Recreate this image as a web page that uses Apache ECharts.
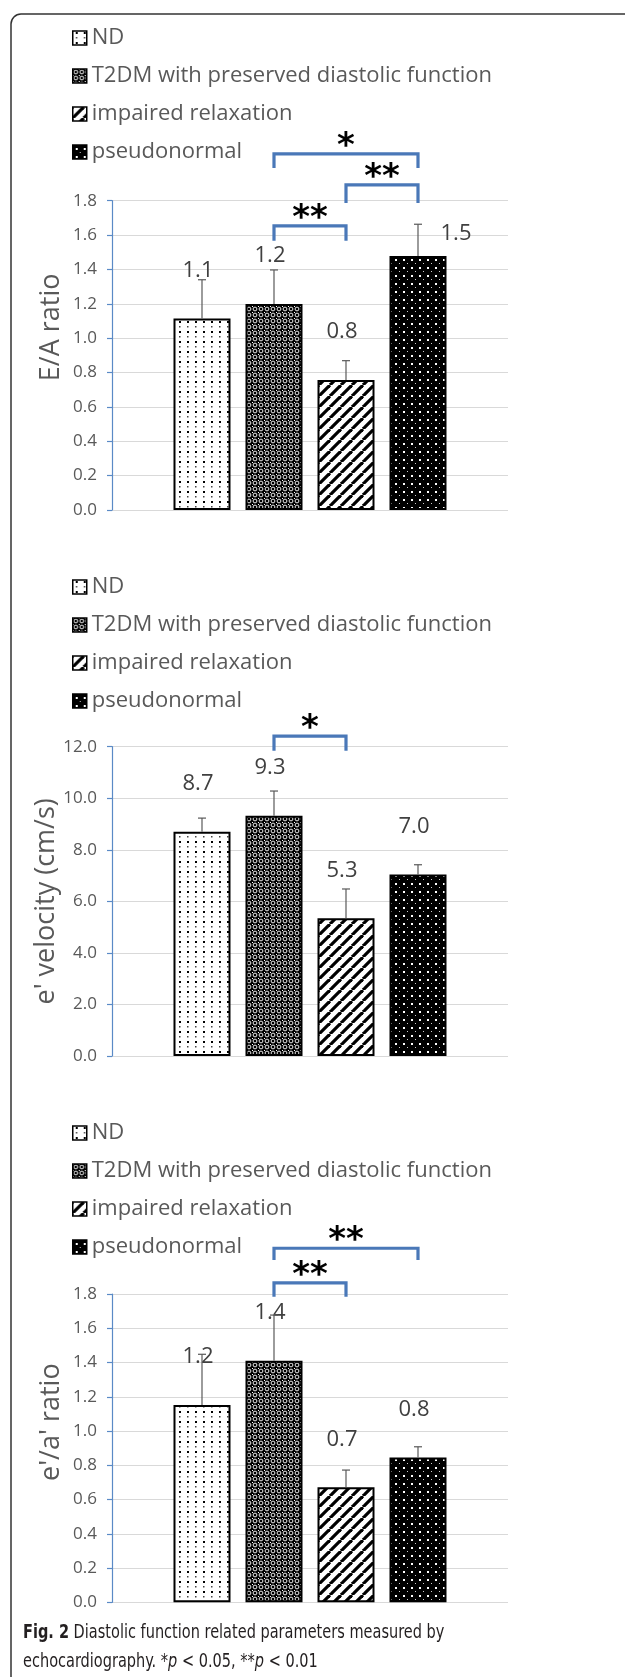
<!DOCTYPE html>
<html>
<head>
<meta charset="utf-8">
<script src="https://cdn.jsdelivr.net/npm/echarts@6/dist/echarts.min.js"></script>
<style>
html,body{margin:0;padding:0;background:#fff;}
#c{width:625px;height:1677px;}
</style>
</head>
<body>
<div id="c"></div>
<script>
// ---------- data ----------
const categories = [''];
const seriesNames = ['ND', 'T2DM with preserved diastolic function', 'impaired relaxation', 'pseudonormal'];

// E/A ratio
const eaMean  = [1.115, 1.199, 0.757, 1.478];
const eaUpper = [1.34, 1.397, 0.869, 1.663];
// e' velocity (cm/s)
const evMean  = [8.70, 9.32, 5.34, 7.04];
const evUpper = [9.23, 10.28, 6.48, 7.42];
// e'/a' ratio
const raMean  = [1.152, 1.41, 0.671, 0.845];
const raUpper = [1.448, 1.677, 0.772, 0.908];

// axis ranges
const eaAxis = {min: 0, max: 1.8, interval: 0.2, name: 'E/A ratio'};
const evAxis = {min: 0, max: 12, interval: 2, name: "e' velocity (cm/s)"};
const raAxis = {min: 0, max: 1.8, interval: 0.2, name: "e'/a' ratio"};

// significance brackets (series index from/to, bar level, leg end level, mark)
const eaBrackets = [
  {from: 1, to: 3, y: 2.072, leg: 1.99, text: '*'},
  {from: 2, to: 3, y: 1.892, leg: 1.787, text: '**'},
  {from: 1, to: 2, y: 1.653, leg: 1.567, text: '**'}
];
const evBrackets = [
  {from: 1, to: 2, y: 12.41, leg: 11.84, text: '*'}
];
const raBrackets = [
  {from: 1, to: 3, y: 2.067, leg: 1.998, text: '**'},
  {from: 1, to: 2, y: 1.865, leg: 1.784, text: '**'}
];

// ---------- style / layout ----------
const BAR_W = 57, GAP = 15;
const FONT = '"Open Sans", sans-serif';
const AXIS_BLUE = '#5a8ac6';
const BRACKET_BLUE = '#4a78b8';
const GRAY_TXT = '#595959';

function pat(w, h, draw) {
  const c = document.createElement('canvas');
  c.width = w; c.height = h;
  const g = c.getContext('2d');
  draw(g, w, h);
  return {image: c, repeat: 'repeat'};
}
const patterns = [
  pat(8, 10, (g, w, h) => {
    g.fillStyle = '#fff'; g.fillRect(0, 0, w, h);
    g.fillStyle = '#000'; g.fillRect(3, 1, 2, 2);
    g.fillStyle = '#444'; g.fillRect(3, 6, 1.5, 1.5);
  }),
  pat(6, 6, (g, w, h) => {
    g.fillStyle = '#000'; g.fillRect(0, 0, w, h);
    g.strokeStyle = '#fff'; g.lineWidth = 0.9;
    g.beginPath(); g.arc(3, 3, 1.9, 0, Math.PI * 2); g.stroke();
    g.fillStyle = '#fff'; g.fillRect(0, 0, 1, 1);
  }),
  pat(11, 11, (g, w, h) => {
    g.fillStyle = '#fff'; g.fillRect(0, 0, w, h);
    g.strokeStyle = '#000'; g.lineWidth = 3.2;
    for (let k = -1; k <= 1; k++) {
      g.beginPath(); g.moveTo(k * w, h); g.lineTo(k * w + w, 0); g.stroke();
    }
  }),
  pat(8, 8, (g, w, h) => {
    g.fillStyle = '#000'; g.fillRect(0, 0, w, h);
    g.fillStyle = '#fff'; g.fillRect(3, 3, 2, 2);
    g.fillStyle = '#ccc'; g.fillRect(7, 7, 1, 1);
  })
];

const panels = [
  {means: eaMean, upper: eaUpper, axis: eaAxis, brackets: eaBrackets, top: 200.7, height: 309.3, legendTop: 26, namePad: 56, nameGap: 47},
  {means: evMean, upper: evUpper, axis: evAxis, brackets: evBrackets, top: 746.7, height: 309.3, legendTop: 575, namePad: 0, nameGap: 52},
  {means: raMean, upper: raUpper, axis: raAxis, brackets: raBrackets, top: 1294, height: 308.3, legendTop: 1121, namePad: 52, nameGap: 47}
];

const grid = [], xAxis = [], yAxis = [], legend = [], series = [];

panels.forEach((p, g) => {
  grid.push({left: 112, width: 396, top: p.top, height: p.height, outerBoundsMode: 'none'});
  xAxis.push({
    type: 'category', gridIndex: g, data: categories,
    axisLine: {show: false}, axisTick: {show: false}, axisLabel: {show: false}
  });
  yAxis.push({
    type: 'value', gridIndex: g, min: p.axis.min, max: p.axis.max, interval: p.axis.interval,
    name: p.axis.name, nameLocation: 'middle', nameGap: p.nameGap, nameRotate: 90,
    nameMoveOverlap: false,
    nameTextStyle: {fontFamily: FONT, fontSize: 27, color: GRAY_TXT, padding: [0, 0, 0, p.namePad]},
    axisLine: {show: true, lineStyle: {color: AXIS_BLUE, width: 1.2}},
    axisTick: {show: true, length: 5, lineStyle: {color: AXIS_BLUE, width: 1.2}},
    axisLabel: {fontFamily: FONT, fontSize: 17, color: GRAY_TXT, margin: 15,
      formatter: v => v.toFixed(1)},
    splitLine: {show: true, lineStyle: {color: '#d9d9d9', width: 1}}
  });
  legend.push({
    orient: 'vertical', left: 72, top: p.legendTop, padding: 0, itemGap: 14,
    itemWidth: 14, itemHeight: 14, icon: 'rect',
    itemStyle: {borderColor: '#000', borderWidth: 1.5},
    textStyle: {fontFamily: FONT, fontSize: 22, color: GRAY_TXT, lineHeight: 24},
    data: seriesNames, selectedMode: false
  });

  p.means.forEach((m, i) => {
    let item = m;
    if (g === 0 && i === 3) item = {value: m, label: {offset: [38, 26]}};
    series.push({
      type: 'bar', name: seriesNames[i], xAxisIndex: g, yAxisIndex: g,
      barWidth: BAR_W, barGap: (GAP / BAR_W * 100).toFixed(2) + '%',
      data: [item],
      itemStyle: {color: patterns[i], borderColor: '#000', borderWidth: 2},
      label: {show: true, position: 'top', distance: 37, offset: [-4, 0],
        fontFamily: FONT, fontSize: 22, color: '#404040',
        formatter: d => d.value.toFixed(1)},
      z: 2
    });
  });

  // error bars
  series.push({
    type: 'custom', xAxisIndex: g, yAxisIndex: g, clip: false, z: 3,
    data: p.means.map((m, i) => [0, m, p.upper[i], i]),
    encode: {x: 0, y: 1},
    renderItem: (params, api) => {
      const i = api.value(3);
      const base = api.coord([api.value(0), api.value(1)]);
      const top = api.coord([api.value(0), api.value(2)]);
      const x = base[0] + (i - 1.5) * (BAR_W + GAP);
      const st = {stroke: '#595959', lineWidth: 1.2};
      return {type: 'group', children: [
        {type: 'line', shape: {x1: x, y1: base[1], x2: x, y2: top[1]}, style: st},
        {type: 'line', shape: {x1: x - 4, y1: top[1], x2: x + 4, y2: top[1]}, style: st}
      ]};
    }
  });

  // significance brackets
  const br = p.brackets;
  series.push({
    type: 'custom', xAxisIndex: g, yAxisIndex: g, clip: false, z: 4,
    data: br.map(b => [0, b.y, b.leg]),
    encode: {x: 0, y: 1},
    renderItem: (params, api) => {
      const b = br[params.dataIndex];
      const c = api.coord([0, b.y]);
      const l = api.coord([0, b.leg]);
      const x1 = c[0] + (b.from - 1.5) * (BAR_W + GAP);
      const x2 = c[0] + (b.to - 1.5) * (BAR_W + GAP);
      return {type: 'group', children: [
        {type: 'polyline', shape: {points: [[x1, l[1]], [x1, c[1]], [x2, c[1]], [x2, l[1]]]},
          style: {stroke: BRACKET_BLUE, lineWidth: 3.2, fill: null}},
        {type: 'text', x: (x1 + x2) / 2, y: c[1] - 7,
          style: {text: b.text, fontFamily: '"DejaVu Sans"', fontWeight: 'bold', fontSize: 34,
            fill: '#000', align: 'center', verticalAlign: 'middle'}}
      ]};
    }
  });
});

const CAP_FONT = '"Liberation Sans Narrow", "DejaVu Sans Condensed", sans-serif';
const chart = echarts.init(document.getElementById('c'), null, {renderer: 'canvas'});
chart.setOption({
  animation: false,
  backgroundColor: '#fff',
  grid, xAxis, yAxis, legend, series,
  graphic: [
    {type: 'rect', shape: {x: 11, y: 14, width: 700, height: 1700, r: 10},
      style: {fill: 'none', stroke: '#333', lineWidth: 1.5}, silent: true},
    {type: 'text', left: 23, top: 1619, scaleX: 0.85,
      style: {
        text: '{b|Fig. 2} Diastolic function related parameters measured by\nechocardiography. *{i|p} < 0.05, **{i|p} < 0.01',
        fontFamily: CAP_FONT,
        fontSize: 19, lineHeight: 29, fill: '#231f20',
        rich: {
          b: {fontFamily: CAP_FONT, fontSize: 19, fontWeight: 'bold', lineHeight: 29, fill: '#231f20'},
          i: {fontFamily: CAP_FONT, fontSize: 19, fontStyle: 'italic', lineHeight: 29, fill: '#231f20'}
        }
      }}
  ]
});
</script>
</body>
</html>
